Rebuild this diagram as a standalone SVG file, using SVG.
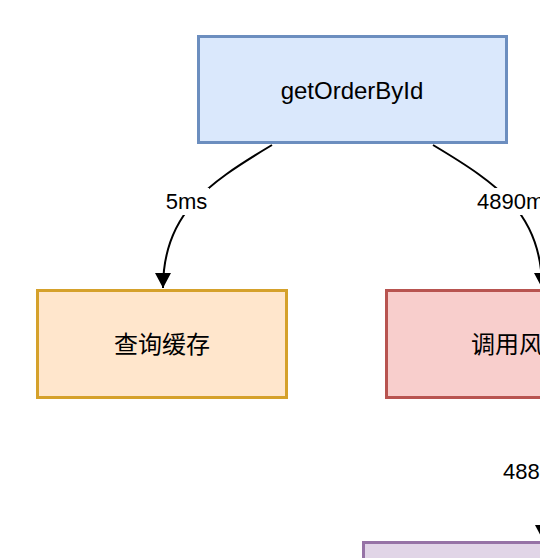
<svg xmlns="http://www.w3.org/2000/svg" width="540" height="558" viewBox="0 0 540 558">
  <defs>
    <marker id="arrow" markerWidth="16" markerHeight="16" refX="15" refY="8" orient="auto" markerUnits="userSpaceOnUse">
      <path d="M0,0 L15,8 L0,16 Z" fill="#000"/>
    </marker>
    <style>
      .box { stroke-width: 3; }
      .lbl { font-family: "Liberation Sans", Arial, "Noto Sans CJK SC", sans-serif; font-size: 24px; fill: #000; }
      .elbl { font-family: "Liberation Sans", Arial, sans-serif; font-size: 22px; fill: #000; }
      .edge { fill: none; stroke: #000; stroke-width: 2; }
      .cjk { font-family: "Noto Sans CJK SC", "Liberation Sans", sans-serif; font-size: 24px; fill: #000; }
    </style>
  </defs>
  <rect width="540" height="558" fill="#fff"/>

  <g id="connectors">
    <path class="edge" d="M272,145 C205,185 163,215 163,288" marker-end="url(#arrow)"/>
    <rect x="164" y="188" width="45" height="27" fill="#fff"/>
    <text class="elbl" x="186.5" y="209" text-anchor="middle">5ms</text>

    <path class="edge" d="M433,145 C500,185 542,215 542,288" marker-end="url(#arrow)"/>
    <rect x="475" y="188" width="65" height="27" fill="#fff"/>
    <text class="elbl" x="477" y="209">4890m</text>

    <path class="edge" d="M543,398 L543,540" marker-end="url(#arrow)"/>
    <rect x="500" y="458" width="40" height="27" fill="#fff"/>
    <text class="elbl" x="503" y="479">488</text>
  </g>

  <g id="getOrderById">
    <rect class="box" x="198.5" y="36.5" width="308" height="106" fill="#dae8fc" stroke="#6c8ebf"/>
    <text class="lbl" x="352" y="99" text-anchor="middle">getOrderById</text>
  </g>

  <g id="queryCache">
    <rect class="box" x="37.5" y="290.5" width="249" height="107" fill="#ffe6cc" stroke="#d5a12b"/>
    <text class="cjk" x="162" y="353" text-anchor="middle">查询缓存</text>
  </g>

  <g id="callService">
    <rect class="box" x="386.5" y="290.5" width="249" height="107" fill="#f8cecc" stroke="#b85450"/>
    <text class="cjk" x="471" y="353">调用风</text>
  </g>

  <g id="bottomNode">
    <rect class="box" x="363.5" y="542.5" width="249" height="107" fill="#e1d5e7" stroke="#9673a6"/>
  </g>
</svg>
